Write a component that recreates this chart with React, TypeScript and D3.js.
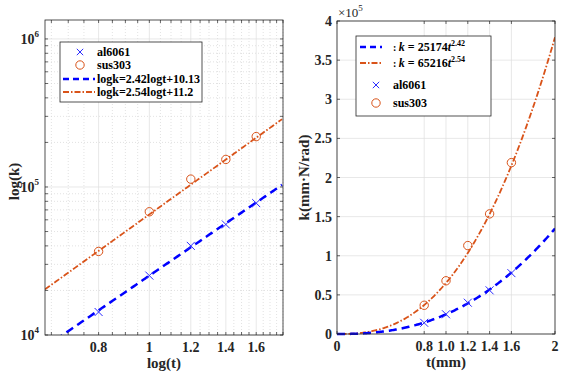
import React from 'react';
import * as d3 from 'd3';

// ---- data ----
const thickness = [0.8, 1.0, 1.2, 1.4, 1.6];
const al6061 = [14300, 25200, 40000, 55800, 77800];
const sus303 = [36700, 68000, 113000, 153500, 219000];
const alCoef = 25174;
const alExp = 2.42;
const susCoef = 65216;
const susExp = 2.54;
const leftXTicks = [0.8, 1, 1.2, 1.4, 1.6];
const leftXTickLabels = ['0.8', '1', '1.2', '1.4', '1.6'];
const leftYTicks = [1e4, 1e5, 1e6];
const leftYExps = ['4', '5', '6'];
const rightXTicks = [0, 0.8, 1.0, 1.2, 1.4, 1.6, 2];
const rightXTickLabels = ['0', '0.8', '1.0', '1.2', '1.4', '1.6', '2'];
const rightYTicks = [0, 0.5e5, 1e5, 1.5e5, 2e5, 2.5e5, 3e5, 3.5e5, 4e5];
const rightYTickLabels = ['0', '0.5', '1', '1.5', '2', '2.5', '3', '3.5', '4'];

const FONT = '"Liberation Serif", "Times New Roman", serif';
const BLUE = '#0000ff';
const MARK_BLUE = '#2b2bff';
const ORANGE = '#d95319';
const AXIS = '#262626';
const GRID = '#dedede';
const GRID_MINOR = '#cfcfcf';
const BLUE_DASH = '8,5';
const ORANGE_DASH = '6,2,1.5,2';

function XMark({ x, y, s = 4, color = MARK_BLUE }: { x: number; y: number; s?: number; color?: string }) {
  return (
    <g stroke={color} strokeWidth={1}>
      <line x1={x - s} y1={y - s} x2={x + s} y2={y + s} />
      <line x1={x - s} y1={y + s} x2={x + s} y2={y - s} />
    </g>
  );
}

function LeftPlot() {
  const L = 45, R = 283, T = 20, B = 335;
  const x = d3.scaleLog().domain([0.632, 1.8]).range([L, R]);
  const y = d3.scaleLog().domain([1e4, Math.pow(10, 6.128)]).range([B, T]);
  const minorX = d3.range(0.65, 1.801, 0.05).filter(v => !leftXTicks.some(t => Math.abs(t - v) < 1e-6));
  const minorY: number[] = [];
  [1e4, 1e5, 1e6].forEach(d => { for (let k = 2; k <= 9; k++) { const v = d * k; if (v < y.domain()[1]) minorY.push(v); } });
  const ts = d3.range(0.632, 1.8001, 0.01);
  const lineAl = d3.line<number>().x(t => x(t)).y(t => y(alCoef * Math.pow(t, alExp)));
  const lineSus = d3.line<number>().x(t => x(t)).y(t => y(susCoef * Math.pow(t, susExp)));
  const tk = 3;
  return (
    <g>
      <defs>
        <clipPath id="clipL"><rect x={L} y={T} width={R - L} height={B - T} /></clipPath>
      </defs>
      <rect x={L} y={T} width={R - L} height={B - T} fill="#fff" />
      {minorX.map((v, i) => (
        <line key={'mx' + i} x1={x(v)} x2={x(v)} y1={T} y2={B} stroke={GRID_MINOR} strokeWidth={0.6} strokeDasharray="1,2" />
      ))}
      {minorY.map((v, i) => (
        <line key={'my' + i} x1={L} x2={R} y1={y(v)} y2={y(v)} stroke={GRID_MINOR} strokeWidth={0.6} strokeDasharray="1,2" />
      ))}
      {leftXTicks.map((v, i) => (
        <line key={'gx' + i} x1={x(v)} x2={x(v)} y1={T} y2={B} stroke={GRID} strokeWidth={0.7} />
      ))}
      {leftYTicks.map((v, i) => (
        <line key={'gy' + i} x1={L} x2={R} y1={y(v)} y2={y(v)} stroke={GRID} strokeWidth={0.7} />
      ))}
      <g clipPath="url(#clipL)">
        <path d={lineSus(ts) || ''} fill="none" stroke={ORANGE} strokeWidth={1.8} strokeDasharray={ORANGE_DASH} />
        <path d={lineAl(ts) || ''} fill="none" stroke={BLUE} strokeWidth={2.5} strokeDasharray={BLUE_DASH} />
      </g>
      {thickness.map((t, i) => <XMark key={'a' + i} x={x(t)} y={y(al6061[i])} />)}
      {thickness.map((t, i) => (
        <circle key={'s' + i} cx={x(t)} cy={y(sus303[i])} r={4.2} fill="none" stroke={ORANGE} strokeWidth={1} />
      ))}
      <rect x={L} y={T} width={R - L} height={B - T} fill="none" stroke={AXIS} strokeWidth={0.8} />
      {[...minorX, ...leftXTicks].map((v, i) => (
        <g key={'tx' + i} stroke={AXIS} strokeWidth={0.7}>
          <line x1={x(v)} x2={x(v)} y1={B} y2={B - tk} />
          <line x1={x(v)} x2={x(v)} y1={T} y2={T + tk} />
        </g>
      ))}
      {[...minorY, ...leftYTicks].map((v, i) => (
        <g key={'ty' + i} stroke={AXIS} strokeWidth={0.7}>
          <line x1={L} x2={L + tk} y1={y(v)} y2={y(v)} />
          <line x1={R} x2={R - tk} y1={y(v)} y2={y(v)} />
        </g>
      ))}
      {leftXTicks.map((v, i) => (
        <text key={'lx' + i} x={x(v)} y={B + 17} textAnchor="middle" fontSize={14} fontWeight="bold" fontFamily={FONT} fill="#262626">{leftXTickLabels[i]}</text>
      ))}
      {leftYTicks.map((v, i) => (
        <text key={'ly' + i} x={L - 6} y={y(v) + 5} textAnchor="end" fontSize={14} fontWeight="bold" fontFamily={FONT} fill="#262626">
          10<tspan fontSize={9} dy={-7}>{leftYExps[i]}</tspan>
        </text>
      ))}
      <text x={(L + R) / 2} y={B + 33} textAnchor="middle" fontSize={15} fontWeight="bold" fontFamily={FONT} fill="#262626">log(t)</text>
      <text transform={`translate(19,${(T + B) / 2 + 4}) rotate(-90)`} textAnchor="middle" fontSize={15} fontWeight="bold" fontFamily={FONT} fill="#262626">log(k)</text>
      <g fontFamily={FONT} fontWeight="bold" fontSize={12} fill="#000">
        <rect x={60} y={42} width={142} height={60} fill="#fff" stroke={AXIS} strokeWidth={0.8} />
        <XMark x={80} y={52} s={3.2} />
        <text x={97} y={56}>al6061</text>
        <circle cx={80} cy={65} r={4.2} fill="none" stroke={ORANGE} strokeWidth={1} />
        <text x={97} y={69}>sus303</text>
        <line x1={63} x2={95} y1={79} y2={79} stroke={BLUE} strokeWidth={2.5} strokeDasharray="6,4" />
        <text x={97} y={83}>logk=2.42logt+10.13</text>
        <line x1={63} x2={95} y1={92} y2={92} stroke={ORANGE} strokeWidth={1.8} strokeDasharray={ORANGE_DASH} />
        <text x={97} y={96}>logk=2.54logt+11.2</text>
      </g>
    </g>
  );
}

function RightPlot() {
  const L = 337, R = 555, T = 21, B = 334;
  const x = d3.scaleLinear().domain([0, 2]).range([L, R]);
  const y = d3.scaleLinear().domain([0, 4e5]).range([B, T]);
  const ts = d3.range(0, 2.0001, 0.01);
  const lineAl = d3.line<number>().x(t => x(t)).y(t => y(alCoef * Math.pow(t, alExp)));
  const lineSus = d3.line<number>().x(t => x(t)).y(t => y(susCoef * Math.pow(t, susExp)));
  const tk = 3;
  return (
    <g>
      <defs>
        <clipPath id="clipR"><rect x={L} y={T - 2} width={R - L} height={B - T + 4} /></clipPath>
      </defs>
      <rect x={L} y={T} width={R - L} height={B - T} fill="#fff" />
      {rightXTicks.map((v, i) => (
        <line key={'gx' + i} x1={x(v)} x2={x(v)} y1={T} y2={B} stroke={GRID} strokeWidth={0.7} />
      ))}
      {rightYTicks.map((v, i) => (
        <line key={'gy' + i} x1={L} x2={R} y1={y(v)} y2={y(v)} stroke={GRID} strokeWidth={0.7} />
      ))}
      <g clipPath="url(#clipR)">
        <path d={lineSus(ts) || ''} fill="none" stroke={ORANGE} strokeWidth={1.8} strokeDasharray={ORANGE_DASH} />
        <path d={lineAl(ts) || ''} fill="none" stroke={BLUE} strokeWidth={2.5} strokeDasharray={BLUE_DASH} />
      </g>
      {thickness.map((t, i) => <XMark key={'a' + i} x={x(t)} y={y(al6061[i])} />)}
      {thickness.map((t, i) => (
        <circle key={'s' + i} cx={x(t)} cy={y(sus303[i])} r={4.2} fill="none" stroke={ORANGE} strokeWidth={1} />
      ))}
      <rect x={L} y={T} width={R - L} height={B - T} fill="none" stroke={AXIS} strokeWidth={0.8} />
      {rightXTicks.map((v, i) => (
        <g key={'tx' + i} stroke={AXIS} strokeWidth={0.7}>
          <line x1={x(v)} x2={x(v)} y1={B} y2={B - tk} />
          <line x1={x(v)} x2={x(v)} y1={T} y2={T + tk} />
        </g>
      ))}
      {rightYTicks.map((v, i) => (
        <g key={'ty' + i} stroke={AXIS} strokeWidth={0.7}>
          <line x1={L} x2={L + tk} y1={y(v)} y2={y(v)} />
          <line x1={R} x2={R - tk} y1={y(v)} y2={y(v)} />
        </g>
      ))}
      {rightXTicks.map((v, i) => (
        <text key={'lx' + i} x={x(v)} y={B + 17} textAnchor="middle" fontSize={14} fontWeight="bold" fontFamily={FONT} fill="#262626">{rightXTickLabels[i]}</text>
      ))}
      {rightYTicks.map((v, i) => (
        <text key={'ly' + i} x={L - 5} y={y(v) + 5} textAnchor="end" fontSize={14} fontWeight="bold" fontFamily={FONT} fill="#262626">{rightYTickLabels[i]}</text>
      ))}
      <text x={L + 1} y={T - 4} fontSize={13} fontFamily={FONT} fill="#262626">
        ×10<tspan fontSize={9} dy={-6}>5</tspan>
      </text>
      <text x={(L + R) / 2} y={B + 33} textAnchor="middle" fontSize={15} fontWeight="bold" fontFamily={FONT} fill="#262626">t(mm)</text>
      <text transform={`translate(309,${(T + B) / 2}) rotate(-90)`} textAnchor="middle" fontSize={15} fontWeight="bold" fontFamily={FONT} fill="#262626">k(mm·N/rad)</text>
      <g fontFamily={FONT} fontWeight="bold" fontSize={12} fill="#000">
        <rect x={356} y={36} width={135} height={80} fill="#fff" stroke={AXIS} strokeWidth={0.8} />
        <line x1={360} x2={382} y1={47} y2={47} stroke={BLUE} strokeWidth={2.5} strokeDasharray="6,4" />
        <text x={393} y={51}>
          <tspan fontSize={10}>: </tspan><tspan fontStyle="italic">k</tspan> = 25174<tspan fontStyle="italic">t</tspan><tspan fontSize={8} dy={-5}>2.42</tspan>
        </text>
        <line x1={360} x2={382} y1={63} y2={63} stroke={ORANGE} strokeWidth={1.8} strokeDasharray={ORANGE_DASH} />
        <text x={393} y={67}>
          <tspan fontSize={10}>: </tspan><tspan fontStyle="italic">k</tspan> = 65216<tspan fontStyle="italic">t</tspan><tspan fontSize={8} dy={-5}>2.54</tspan>
        </text>
        <XMark x={376} y={85} s={3.2} />
        <text x={393} y={89}>al6061</text>
        <circle cx={376} cy={103} r={4.2} fill="none" stroke={ORANGE} strokeWidth={1} />
        <text x={393} y={107}>sus303</text>
      </g>
    </g>
  );
}

export default function App() {
  return (
    <svg width={563} height={377} style={{ position: 'absolute', left: 0, top: 0, background: '#fff' }}>
      <rect x={0} y={0} width={563} height={377} fill="#fff" />
      <LeftPlot />
      <RightPlot />
    </svg>
  );
}
